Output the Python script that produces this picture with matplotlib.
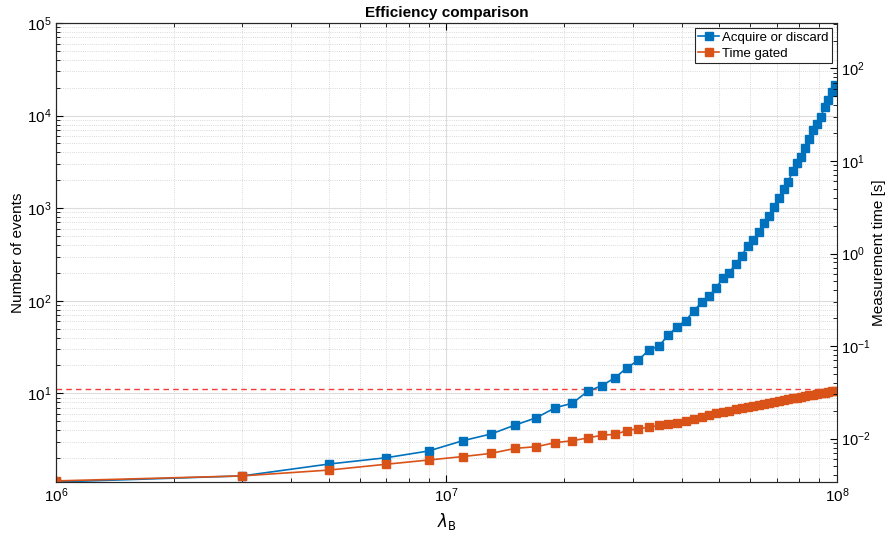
import matplotlib.pyplot as plt
from matplotlib.ticker import LogLocator, NullFormatter

plt.rcParams['font.family'] = ['Liberation Sans', 'DejaVu Sans']

# lambda_B values (odd millions, 1e6 .. 99e6)
lam = [m * 1e6 for m in range(1, 100, 2)]

acquire = [1.10, 1.28, 1.72, 2.01, 2.38, 3.07, 3.63, 4.54, 5.45, 6.99,
           7.8, 10.5, 12.1, 14.7, 18.9, 22.8, 29.4, 32.4, 42.7, 52.5,
           61, 77.7, 96, 113, 136, 178, 201, 250, 305, 391,
           454, 550, 688, 832, 1040, 1282, 1604, 1940, 2490, 3065,
           3610, 4520, 5570, 7010, 8150, 9770, 12360, 14830, 18200, 21400]

gated = [1.13, 1.28, 1.48, 1.71, 1.90, 2.07, 2.24, 2.54, 2.65, 2.93,
         3.07, 3.29, 3.52, 3.60, 3.95, 4.14, 4.28, 4.51, 4.66, 4.81,
         5.06, 5.27, 5.50, 5.78, 6.08, 6.28, 6.49, 6.71, 6.92, 7.10,
         7.30, 7.50, 7.70, 7.88, 8.05, 8.24, 8.43, 8.60, 8.78, 8.95,
         9.14, 9.30, 9.47, 9.65, 9.82, 10.0, 10.15, 10.33, 10.5, 10.68]

threshold = 11.0
time_factor = 10 ** -2.51  # events -> seconds on right axis

fig = plt.figure(figsize=(8.86, 5.38), dpi=100)
ax = fig.add_axes([0.0632, 0.1041, 0.8815, 0.8531])

ax.plot(lam, acquire, '-s', color='#0072BD', lw=1.2, ms=5.2,
        label='Acquire or discard', zorder=3)
ax.plot(lam, gated, '-s', color='#D95319', lw=1.2, ms=5.2,
        label='Time gated', zorder=4)
ax.axhline(threshold, color='#f03c3c', ls='--', lw=1.0, dashes=(4, 3), zorder=2)

ax.set_xscale('log')
ax.set_yscale('log')
ax.set_xlim(1e6, 1e8)
ax.set_ylim(1.1, 1e5)

ax.yaxis.set_major_locator(LogLocator(base=10, numticks=10))
ax.yaxis.set_minor_locator(LogLocator(base=10, subs=range(2, 10), numticks=20))
ax.yaxis.set_minor_formatter(NullFormatter())

ax.grid(True, which='major', color='#dcdcdc', lw=0.8, ls='-')
ax.grid(True, which='minor', color='#cccccc', lw=0.6, ls=':')
ax.set_axisbelow(True)

ax.tick_params(which='both', direction='in', top=True, labelsize=11)
ax.tick_params(which='major', length=5)
ax.tick_params(which='minor', length=3)
ax.spines['right'].set_visible(False)

ax.set_title('Efficiency comparison', fontsize=11, fontweight='bold', pad=4)
ax.set_xlabel(r'$\lambda_{\mathrm{B}}$', fontsize=12)
ax.set_ylabel('Number of events', fontsize=11, labelpad=1)

ax2 = ax.twinx()
ax2.set_yscale('log')
ax2.set_ylim(1.1 * time_factor, 1e5 * time_factor)
ax2.yaxis.set_major_locator(LogLocator(base=10, numticks=10))
ax2.yaxis.set_minor_locator(LogLocator(base=10, subs=range(2, 10), numticks=20))
ax2.yaxis.set_minor_formatter(NullFormatter())
ax2.tick_params(which='both', direction='in', labelsize=10.5, pad=3)
ax2.tick_params(which='major', length=5)
ax2.tick_params(which='minor', length=3)
ax2.set_ylabel('Measurement time [s]', fontsize=11, labelpad=1)
for s in ax2.spines.values():
    s.set_color('#262626')
for s in ax.spines.values():
    s.set_color('#262626')

leg = ax.legend(loc='upper right', fontsize=9.5, fancybox=False, framealpha=1,
                edgecolor='#262626', borderaxespad=0.4, handlelength=1.6,
                handletextpad=0.2, borderpad=0.25, labelspacing=0.3)
leg.get_frame().set_linewidth(0.8)

fig.savefig('out.png', dpi=100)
